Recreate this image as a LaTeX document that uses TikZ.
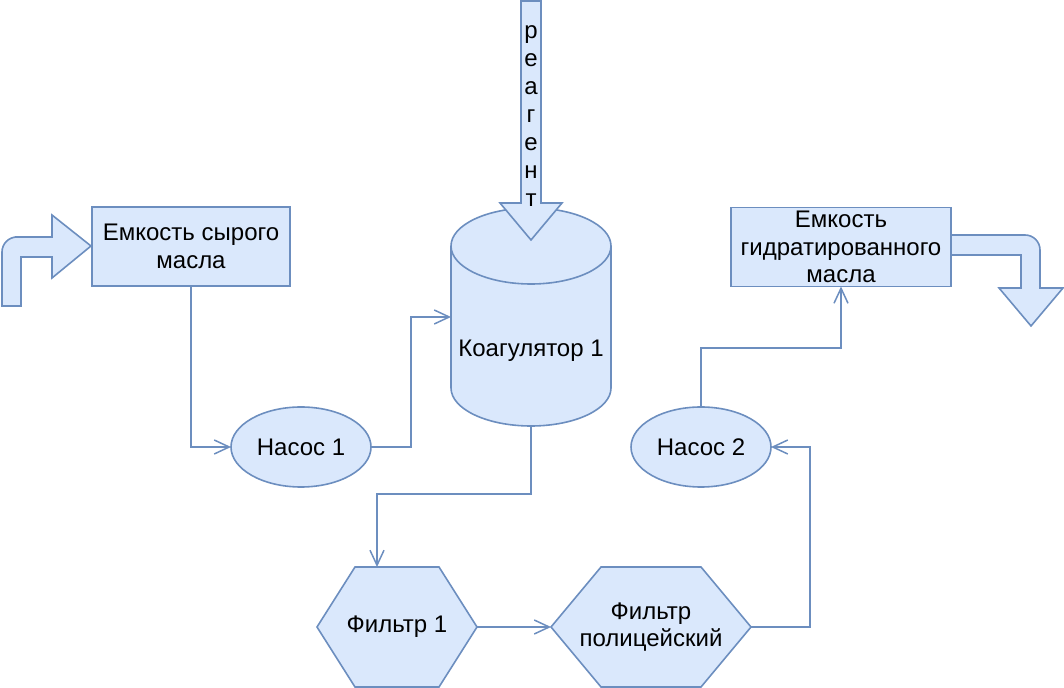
\documentclass[tikz,border=0pt]{standalone}
\usepackage{fontspec}
\setmainfont{Liberation Sans}
\usetikzlibrary{arrows.meta}
\usetikzlibrary{positioning}
\usetikzlibrary{shapes.geometric}
\usetikzlibrary{backgrounds}
\definecolor{blockfill}{HTML}{DAE8FC}
\definecolor{blockline}{HTML}{6C8EBF}
\tikzset{tankbox/.style = {draw=blockline, fill=blockfill, line width=0.8pt,
                           minimum height=39.5pt, align=center,
                           inner sep=0pt, outer sep=0pt}}
\tikzset{pumpnode/.style = {ellipse, draw=blockline, fill=blockfill, line width=0.8pt,
                            minimum width=70pt, minimum height=40pt,
                            inner sep=0pt, outer sep=0pt}}
\tikzset{hexnode/.style = {minimum height=60pt, align=center,
                           inner sep=0pt, outer sep=0pt}}
\tikzset{shapeline/.style = {draw=blockline, fill=blockfill, line width=0.8pt}}
\tikzset{flow/.style = {draw=blockline, line width=0.75pt,
                        -{Straight Barb[length=7.5pt, width=7pt]}}}

\begin{document}
\begin{tikzpicture}[x=0.5pt, y=-0.5pt, font=\fontsize{12}{13.8}\selectfont]
      \useasboundingbox (0,0) rectangle (1064,688);
      \node [tankbox, minimum width=99pt] (tank1) at (191,246.5) {Емкость сырого\\масла};
      \node [tankbox, minimum width=110pt] (tank2) at (841,247) {Емкость\\гидратированного\\масла};
      \node [pumpnode] (pump1) at (301,447) {Насос 1};
      \node [pumpnode] (pump2) at (701,447) {Насос 2};
      \node [hexnode, minimum width=80pt] (filter1) at (397,627) {Фильтр 1};
      \node [hexnode, minimum width=100pt] (filter2) at (651,627) {Фильтр\\полицейский};
      \node [minimum width=80pt, minimum height=109pt, outer sep=0pt] (koag) at (531,317) {};
      \node (koaglabel) at (531,351) {Коагулятор 1};
      % cylinder and hexagons behind the labels
      \begin{scope}[on background layer]
        \draw [shapeline] ([yshift=-19pt]koag.north west) -- ([yshift=19pt]koag.south west)
          arc [start angle=180, end angle=360, x radius=40pt, y radius=19pt]
          -- ([yshift=-19pt]koag.north east)
          arc [start angle=0, end angle=180, x radius=40pt, y radius=19pt] -- cycle;
        \draw [shapeline, fill=none] ([yshift=-19pt]koag.north west)
          arc [start angle=180, end angle=360, x radius=40pt, y radius=19pt];
        \draw [shapeline] (filter1.west) -- ([xshift=19pt]filter1.north west)
          -- ([xshift=-19pt]filter1.north east) -- (filter1.east)
          -- ([xshift=-19pt]filter1.south east) -- ([xshift=19pt]filter1.south west) -- cycle;
        \draw [shapeline] (filter2.west) -- ([xshift=25pt]filter2.north west)
          -- ([xshift=-25pt]filter2.north east) -- (filter2.east)
          -- ([xshift=-25pt]filter2.south east) -- ([xshift=25pt]filter2.south west) -- cycle;
      \end{scope}
      % block arrows
      \draw [shapeline] (2,306) [rounded corners=7.5pt] -- (2,237) -- (30,237) [sharp corners]
        -- (52,237) -- (52,215) -- (91,246) -- (52,278) -- (52,257) -- (21,257) -- (21,306) -- cycle;
      \draw [shapeline] (951,235) [rounded corners=7.5pt] -- (1040,235) -- (1040,265) [sharp corners]
        -- (1040,288) -- (1063,288) -- (1031,326) -- (999,288) -- (1021,288) -- (1021,255) -- (951,255) -- cycle;
      \draw [shapeline] (521,1) -- (541,1) -- (541,203) -- (562,203) -- (531,240)
        -- (500,203) -- (521,203) -- cycle;
      \node [align=center, font=\fontsize{12}{14}\selectfont] (reagent) at (531,116) {р\\е\\а\\г\\е\\н\\т};
      % pipes
      \draw [flow] (tank1.south) |- (pump1.west);
      \draw [flow] (pump1.east) -- ++(40,0) |- (koag.west);
      \draw [flow] (koag.south) -- ++(0,68) -| ([xshift=-10pt]filter1.north);
      \draw [flow] (filter1.east) -- (filter2.west);
      \draw [flow] (filter2.east) -- ++(59,0) |- (pump2.east);
      \draw [flow] (pump2.north) -- ++(0,-59) -| (tank2.south);
    \end{tikzpicture}
\end{document}
